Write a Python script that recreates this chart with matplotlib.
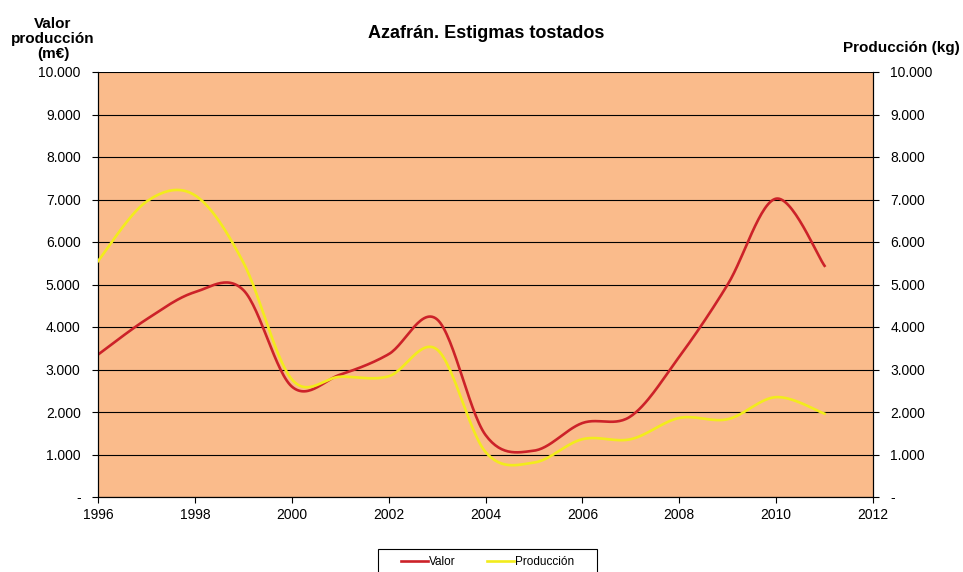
import numpy as np
import matplotlib.pyplot as plt
from matplotlib.patches import Rectangle
from matplotlib.ticker import FixedLocator, FuncFormatter

plt.rcParams['font.family'] = ['Liberation Sans', 'DejaVu Sans']

# Data
years = [1996, 1997, 1998, 1999, 2000, 2001, 2002, 2003,
         2004, 2005, 2006, 2007, 2008, 2009, 2010, 2011]
valor = [3350, 4180, 4820, 4870, 2600, 2880, 3360, 4180,
         1460, 1090, 1740, 1900, 3300, 5000, 7020, 5440]
produccion = [5550, 6950, 7100, 5520, 2770, 2830, 2840, 3470,
              1060, 810, 1360, 1360, 1860, 1830, 2350, 1960]

title = "Azafrán. Estigmas tostados"
left_label = "Valor\nproducción\n(m€)"
right_label = "Producción (kg)"


def smooth(x, y, n=30):
    # Catmull-Rom spline, similar to Excel's smoothed lines
    x = np.asarray(x, float)
    y = np.asarray(y, float)
    px = np.concatenate([[x[0]], x, [x[-1]]])
    py = np.concatenate([[y[0]], y, [y[-1]]])
    xs, ys = [], []
    t = np.linspace(0, 1, n, endpoint=False)
    for i in range(1, len(px) - 2):
        for p, out in ((px, xs), (py, ys)):
            p0, p1, p2, p3 = p[i - 1], p[i], p[i + 1], p[i + 2]
            m1 = (p2 - p0) / 2
            m2 = (p3 - p1) / 2
            h00 = 2 * t**3 - 3 * t**2 + 1
            h10 = t**3 - 2 * t**2 + t
            h01 = -2 * t**3 + 3 * t**2
            h11 = t**3 - t**2
            out.extend(h00 * p1 + h10 * m1 + h01 * p2 + h11 * m2)
    xs.append(x[-1])
    ys.append(y[-1])
    return np.array(xs), np.array(ys)


def fmt(v, pos):
    if v == 0:
        return "-"
    return f"{v:,.0f}".replace(",", ".")


W, H = 963, 572
fig = plt.figure(figsize=(W / 100, H / 100), dpi=100)
ax = fig.add_axes([98 / W, 1 - 497 / H, (873 - 98) / W, (497 - 72) / H])
ax.set_facecolor('#FABB8B')

red = '#CC2229'
yellow = '#F2EC1C'

xv, yv = smooth(years, valor)
ax.plot(xv, yv, color=red, lw=1.9, label='Valor', zorder=3)
ax2 = ax.twinx()
xp, yp = smooth(years, produccion)
ax2.plot(xp, yp, color=yellow, lw=1.9, label='Producción', zorder=3)

for a in (ax, ax2):
    a.set_ylim(0, 10000)
    a.yaxis.set_major_locator(FixedLocator(np.arange(0, 10001, 1000)))
    a.yaxis.set_major_formatter(FuncFormatter(fmt))
    a.spines['top'].set_visible(False)
    for s in ('left', 'right', 'bottom'):
        a.spines[s].set_color('black')
        a.spines[s].set_linewidth(0.8)

ax.set_xlim(1996, 2012)
ax.set_xticks(np.arange(1996, 2013, 2))
ax.yaxis.grid(True, color='black', lw=0.8)
ax.set_axisbelow(True)
ax.tick_params(axis='y', length=4, width=0.8, pad=8.5, labelsize=10)
ax.tick_params(axis='x', length=4, width=0.8, pad=4, labelsize=10)
ax2.tick_params(axis='y', length=4, width=0.8, pad=8.5, labelsize=10)

fig.text(486 / W, 1 - 33 / H, title, ha='center', va='center',
         fontsize=13, fontweight='bold')
fig.text(53 / W, 1 - 39 / H, left_label, ha='center', va='center',
         fontsize=11, fontweight='bold', linespacing=1.1)
fig.text(901 / W, 1 - 48 / H, right_label, ha='center', va='center',
         fontsize=11, fontweight='bold')

# legend box (runs off the bottom edge, as in the original)
fig.add_artist(Rectangle((378 / W, 1 - 585 / H), (597 - 378) / W, 36 / H,
                         transform=fig.transFigure, facecolor='white',
                         edgecolor='black', lw=0.8, clip_on=False))
h1, l1 = ax.get_legend_handles_labels()
h2, l2 = ax2.get_legend_handles_labels()
leg = fig.legend(h1 + h2, l1 + l2, loc='upper left', ncol=2,
                 bbox_to_anchor=(401 / W, 1 - 556 / H), fontsize=8.5,
                 frameon=False, handlelength=2.3, handletextpad=0.1,
                 columnspacing=2.6, borderpad=0, borderaxespad=0)

fig.savefig('out.png', dpi=100, facecolor='white')
